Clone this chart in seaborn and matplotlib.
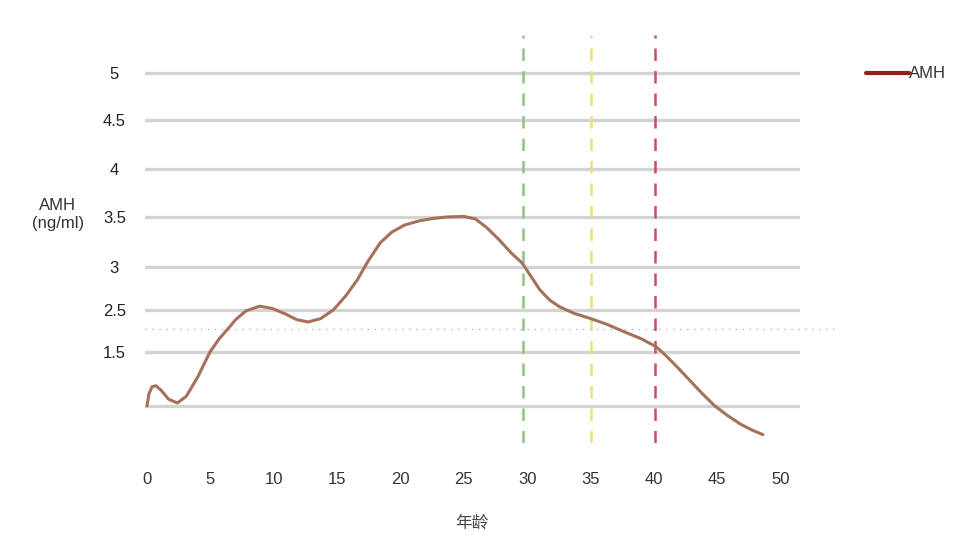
import matplotlib
matplotlib.use('Agg')
import matplotlib.pyplot as plt
import seaborn as sns
import pandas as pd
from matplotlib.lines import Line2D

# AMH curve (y in axis units, labels mapped below)
age = [0, 0.15, 0.4, 0.7, 1.1, 1.7, 2.4, 3.1, 4.0, 4.97, 5.7, 6.3, 7.0, 7.8,
       8.9, 9.9, 10.9, 11.8, 12.7, 13.7, 14.7, 15.7, 16.6, 17.4, 18.4, 19.3,
       20.3, 21.5, 22.6, 23.7, 25.0, 25.9, 26.8, 27.8, 28.7, 29.6, 30.3, 31.0,
       31.8, 32.6, 33.7, 34.9, 36.3, 37.7, 39.0, 40.2, 40.9, 41.8, 42.8, 43.8,
       44.8, 45.8, 46.8, 47.7, 48.6]
amh = [0, 0.25, 0.4, 0.42, 0.33, 0.14, 0.06, 0.2, 0.6, 1.125, 1.4, 1.58, 1.8,
       1.98, 2.08, 2.03, 1.92, 1.8, 1.75, 1.82, 2.0, 2.3, 2.63, 3.0, 3.4, 3.62,
       3.77, 3.86, 3.91, 3.94, 3.95, 3.9, 3.72, 3.46, 3.2, 2.98, 2.7, 2.42,
       2.2, 2.06, 1.93, 1.83, 1.7, 1.54, 1.4, 1.23, 1.06, 0.82, 0.54, 0.26,
       0.0, -0.2, -0.375, -0.5, -0.6]

# horizontal reference lines and their labels
ytick_pos = [0, 1.12, 2.0, 2.9, 3.94, 4.94, 5.96, 6.94]
ytick_labels = ['', '1.5', '2.5', '3', '3.5', '4', '4.5', '5']
xticks = [0, 5, 10, 15, 20, 25, 30, 35, 40, 45, 50]

# age markers
marker_ages = [29.7, 35.0, 40.1]
marker_colors = ['#8fc47f', '#f3dc7a', '#c9505a']
dotted_level = 1.6

sns.set_theme(style='white')
plt.rcParams['font.family'] = ['Liberation Sans', 'Noto Sans CJK SC']

fig = plt.figure(figsize=(9.6, 5.42), dpi=100)
ax = fig.add_axes([0.151, 0.183, 0.682, 0.752])

for y in ytick_pos:
    ax.axhline(y, color='#d3d3d3', lw=2.4, zorder=1)

ax.plot([-0.16, 54.6], [dotted_level, dotted_level], color='#b5b5b5', lw=1,
        ls=(0, (1, 4)), clip_on=False, zorder=1)

for xa, c in zip(marker_ages, marker_colors):
    ax.axvline(xa, color=c, lw=1.8, ls=(0, (5, 4)), zorder=2)

df = pd.DataFrame({'age': age, 'amh': amh})
sns.lineplot(ax=ax, data=df, x='age', y='amh', color='#a5705c', lw=2.2,
             legend=False, zorder=3, sort=False)

ax.set_xlim(-0.16, 51.5)
ax.set_ylim(-0.77, 7.73)
ax.set_xticks(xticks)
ax.set_xticklabels([str(v) for v in xticks], fontsize=12, color='#333333')
ax.set_yticks(ytick_pos)
ax.set_yticklabels(ytick_labels, fontsize=12, color='#222222', ha='center')
ax.tick_params(axis='x', length=0, pad=21)
ax.tick_params(axis='y', length=0, pad=22)
for s in ax.spines.values():
    s.set_visible(False)

ax.set_xlabel('年龄', fontsize=12, color='#444444', labelpad=20,
              family=['Noto Sans CJK SC', 'DejaVu Sans'])
ax.set_ylabel('AMH\n(ng/ml)', fontsize=12, color='#333333', rotation=0,
              ha='center', va='center', labelpad=0)
ax.yaxis.set_label_coords(-0.133, 0.56)

handle = Line2D([], [], color='#8e2222', lw=3)
ax.legend([handle], ['AMH'], loc='center left', bbox_to_anchor=(1.078, 0.905),
          frameon=False, handlelength=2.6, handletextpad=0.0, fontsize=12,
          labelcolor='#333333')

plt.savefig('out.png', dpi=100)
